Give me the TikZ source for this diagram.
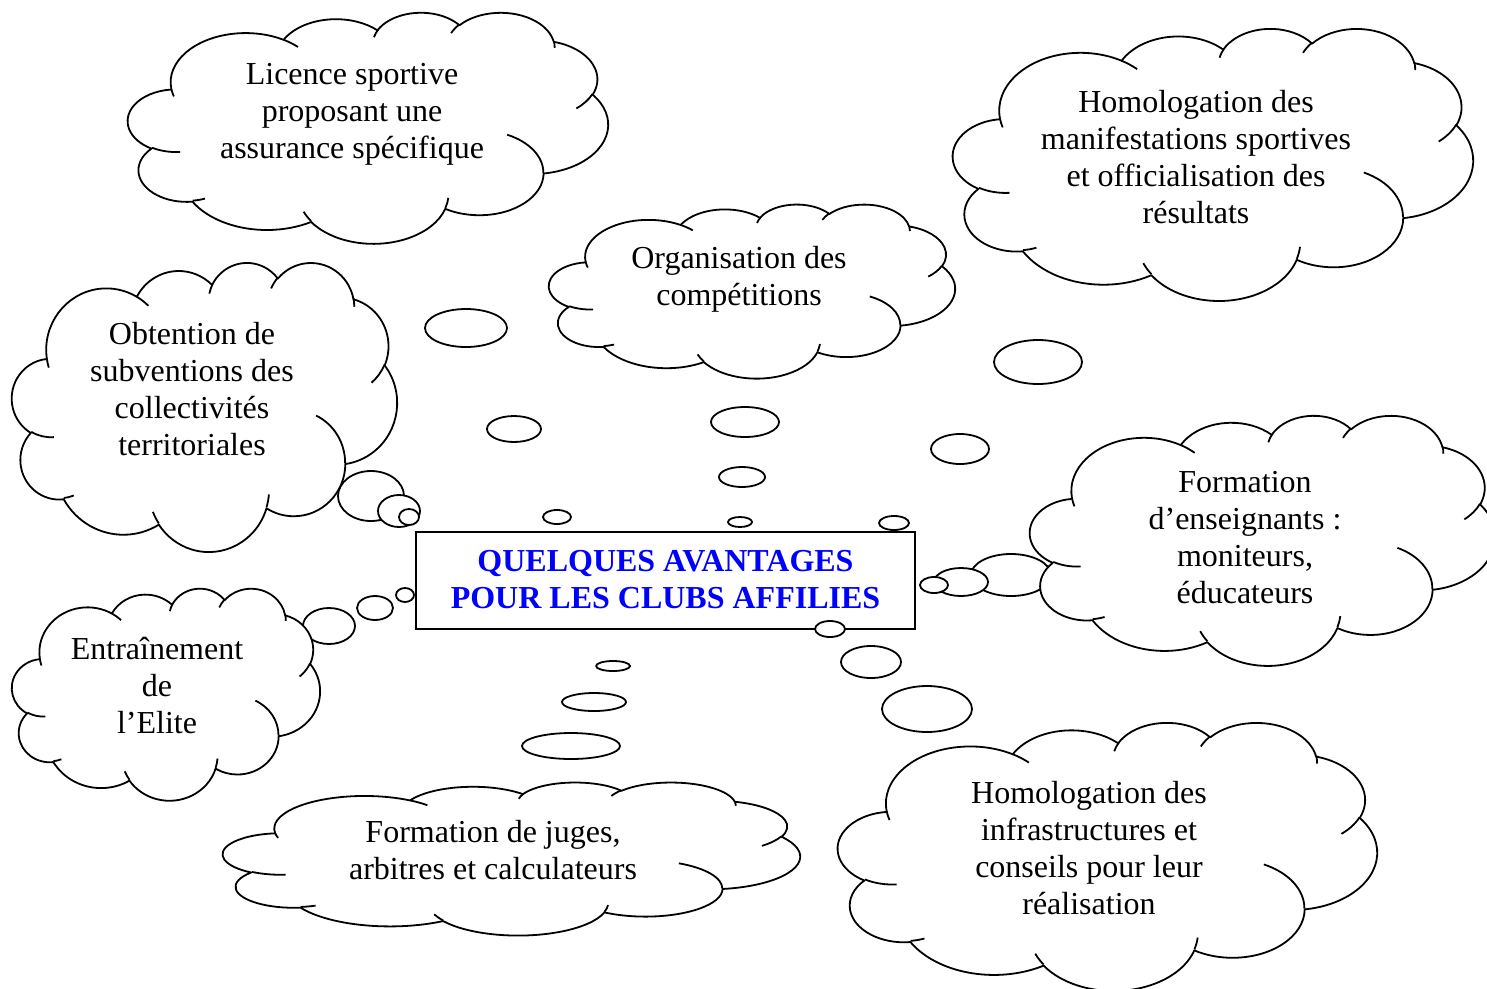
\documentclass[tikz,border=0pt]{standalone}
\usepackage{fontspec}
\setmainfont{Liberation Serif}
\usepackage{xcolor}
\usepackage{tikz}
\usetikzlibrary{shapes.geometric}
\definecolor{TitleBlue}{rgb}{0,0,1}
\newcommand\cloudsize{\fontsize{32}{37}\selectfont}
\tikzset{
    outline/.style={
        draw=black,
        line width=1.8pt,
        line join=round
    },
    warc/.style n args={4}{
        insert path={arc[x radius=#1pt, y radius=#2pt,
            start angle={atan2(#1*sin(#3),#2*cos(#3))},
            delta angle={mod(atan2(#1*sin(#3+#4),#2*cos(#3+#4))-atan2(#1*sin(#3),#2*cos(#3))+720,360)}]}
    },
    cloudtext/.style={align=center, font=\cloudsize, inner sep=0pt},
    bubble/.style={ellipse, outline, fill=white, inner sep=0pt},
    titlebox/.style={
        rectangle,
        draw=black,
        line width=2pt,
        fill=white,
        minimum width=499pt,
        minimum height=97pt,
        align=center,
        font=\cloudsize\bfseries,
        text=TitleBlue
    }
}
% cloud outline: left, top, width, height
\newcommand\wordcloud[4]{%
    \begin{scope}[shift={(#1,#2)}, xscale=#3/43.2, yscale=-#4/43.2]
        \filldraw[outline, fill=white] (3.9pt,14.37pt)
            [warc={6.753}{9.19}{-190.4875}{123.7805}]
            [warc={5.333}{7.267}{-144.1024}{89.9452}]
            [warc={4.365}{5.945}{-145.8079}{99.7230}]
            [warc={4.857}{6.595}{-130.9861}{117.2417}]
            [warc={5.333}{7.273}{-78.7089}{109.0269}]
            [warc={6.775}{9.22}{-46.2673}{130.2690}]
            [warc={5.785}{7.867}{0.6250}{114.0333}]
            [warc={6.752}{9.215}{22.4516}{115.1726}]
            [warc={7.72}{10.543}{66.2426}{75.7110}]
            [warc={4.36}{5.918}{-274.9421}{146.7356}]
            [warc={4.345}{5.945}{-246.8285}{152.5189}] -- cycle;
        \draw[outline]
            (4.693pt,26.177pt) [warc={4.345}{5.945}{86.742}{26.4295}]
            (6.928pt,34.899pt) [warc={4.36}{5.918}{73.6105}{11.4475}]
            (16.478pt,39.09pt) [warc={6.752}{9.215}{137.6242}{14.0811}]
            (28.827pt,34.751pt) [warc={6.752}{9.215}{6.4533}{15.9984}]
            (34.129pt,22.954pt) [warc={5.785}{7.867}{-70.2924}{70.9174}]
            (41.798pt,15.354pt) [warc={5.333}{7.273}{30.3180}{27.7515}]
            (38.324pt,5.426pt) [warc={4.857}{6.595}{-13.7443}{14.8589}]
            (29.078pt,3.952pt) [warc={4.857}{6.595}{-149.1815}{18.1954}]
            (22.141pt,4.72pt) [warc={4.365}{5.945}{-163.4943}{17.6864}]
            (14pt,5.192pt) [warc={6.753}{9.19}{-66.7070}{12.3194}]
            (4.127pt,15.789pt) [warc={6.753}{9.19}{157.6544}{11.8582}];
    \end{scope}}

\begin{document}
\begin{tikzpicture}[x=1pt, y=-1pt]
\useasboundingbox (0,0) rectangle (1487,988);
\clip (0,0) rectangle (1487,988);

% Title
\node[titlebox] (title) at (665.5,580) {QUELQUES AVANTAGES\\POUR LES CLUBS AFFILIES};

% Bubbles towards the top
\node[bubble, minimum width=82pt, minimum height=38pt] (b_org1) at (466,328) {};
\node[bubble, minimum width=54pt, minimum height=26pt] (b_org2) at (514,429) {};
\node[bubble, minimum width=28pt, minimum height=14pt] (b_org3) at (557,517) {};
\node[bubble, minimum width=68pt, minimum height=30pt] (b_comp1) at (745,422) {};
\node[bubble, minimum width=46pt, minimum height=20pt] (b_comp2) at (742,477) {};
\node[bubble, minimum width=24pt, minimum height=10pt] (b_comp3) at (740,522) {};
\node[bubble, minimum width=88pt, minimum height=44pt] (b_manif1) at (1038,362) {};
\node[bubble, minimum width=58pt, minimum height=30pt] (b_manif2) at (960,449) {};
\node[bubble, minimum width=30pt, minimum height=14pt] (b_manif3) at (894,523) {};

% Bubbles on the sides
\node[bubble, minimum width=66pt, minimum height=50pt] (b_obt1) at (371,496) {};
\node[bubble, minimum width=42pt, minimum height=32pt] (b_obt2) at (399,511) {};
\node[bubble, minimum width=20pt, minimum height=16pt] (b_obt3) at (409,517) {};
\node[bubble, minimum width=52pt, minimum height=36pt] (b_elite1) at (329,626) {};
\node[bubble, minimum width=36pt, minimum height=24pt] (b_elite2) at (375,608) {};
\node[bubble, minimum width=18pt, minimum height=14pt] (b_elite3) at (405,595) {};
\node[bubble, minimum width=80pt, minimum height=42pt] (b_ens1) at (1011,575) {};
\node[bubble, minimum width=54pt, minimum height=28pt] (b_ens2) at (961,582) {};
\node[bubble, minimum width=28pt, minimum height=16pt] (b_ens3) at (934,585) {};

% Bubbles towards the bottom
\node[bubble, minimum width=34pt, minimum height=10pt] (b_juges3) at (613,666) {};
\node[bubble, minimum width=64pt, minimum height=18pt] (b_juges2) at (594,702) {};
\node[bubble, minimum width=98pt, minimum height=26pt] (b_juges1) at (571,746) {};
\node[bubble, minimum width=30pt, minimum height=16pt] (b_infra3) at (830,629) {};
\node[bubble, minimum width=60pt, minimum height=32pt] (b_infra2) at (871,662) {};
\node[bubble, minimum width=90pt, minimum height=46pt] (b_infra1) at (927,709) {};

% Clouds
\wordcloud{128}{12}{480}{231}
\node[cloudtext] (t_licence) at (352,114) {Licence sportive\\proposant une\\assurance spécifique};

\wordcloud{953}{28}{520}{272}
\node[cloudtext] (t_manif) at (1196,157) {Homologation des\\manifestations sportives\\et officialisation des\\résultats};

\wordcloud{549}{204}{406}{174}
\node[cloudtext] (t_comp) at (739,279.5) {Organisation des\\compétitions};

\wordcloud{12}{262}{385}{289}
\node[cloudtext] (t_obt) at (192,389) {Obtention de\\subventions des\\collectivités\\territoriales};

\wordcloud{1030}{415}{465}{250}
\node[cloudtext] (t_ens) at (1245,538) {Formation\\d’enseignants :\\moniteurs,\\éducateurs};

\wordcloud{12}{588}{308}{212}
\node[cloudtext] (t_elite) at (157,686) {Entraînement\\de\\l’Elite};

\wordcloud{223}{782}{577}{153}
\node[cloudtext] (t_juges) at (493,850) {Formation de juges,\\arbitres et calculateurs};

\wordcloud{838}{722}{539}{268}
\node[cloudtext] (t_infra) at (1089,848) {Homologation des\\infrastructures et\\conseils pour leur\\réalisation};

\end{tikzpicture}
\end{document}
